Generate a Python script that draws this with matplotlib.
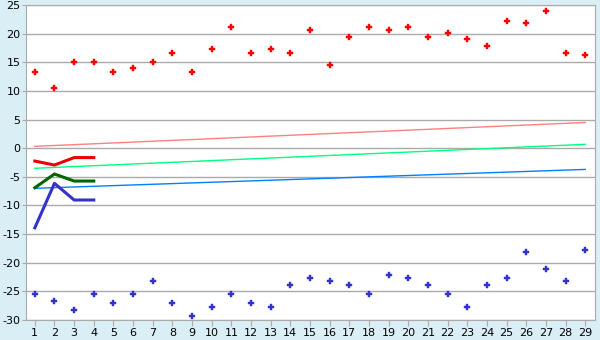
import matplotlib
matplotlib.use("Agg")
import matplotlib.pyplot as plt
import numpy as np

plt.rcParams['axes.unicode_minus'] = False

days = np.arange(1, 30)

high_pts = [13.25, 10.6, 15.0, 15.0, 13.25, 13.95, 15.0, 16.7, 13.25, 17.3,
            21.1, 16.7, 17.3, 16.7, 20.6, 14.5, 19.4, 21.1, 20.6, 21.1,
            19.4, 20.05, 19.0, 17.8, 22.15, 21.8, 23.9, 16.7, 16.2]
low_pts = [-25.5, -26.7, -28.3, -25.5, -27.1, -25.5, -23.25, -27.1, -29.3, -27.8,
           -25.5, -27.1, -27.8, -23.95, -22.7, -23.25, -23.95, -25.5, -22.2, -22.7,
           -23.95, -25.5, -27.8, -23.95, -22.7, -18.2, -21.15, -23.25, -17.8]

# trend lines (start / end values)
trend_x = [1, 29]
trend_high = [0.33, 4.5]
trend_mid = [-3.5, 0.68]
trend_low = [-7.0, -3.7]

# short series for first days
short_x = [1, 2, 3, 4]
short_high = [-2.24, -2.93, -1.63, -1.63]
short_mid = [-6.9, -4.5, -5.73, -5.73]
short_low = [-13.9, -6.13, -9.04, -9.04]

fig = plt.figure(figsize=(6, 3.4), dpi=100)
fig.patch.set_facecolor('#d9eef5')
ax = fig.add_axes([0.0433, 0.0588, 0.9484, 0.9262])
ax.set_facecolor('white')

ax.plot(trend_x, trend_high, color='#ff8080', lw=1)
ax.plot(trend_x, trend_mid, color='#00ff80', lw=1)
ax.plot(trend_x, trend_low, color='#0080ff', lw=1)

ax.plot(short_x, short_high, color='#ee0000', lw=2.2)
ax.plot(short_x, short_mid, color='#006600', lw=2.2)
ax.plot(short_x, short_low, color='#3333cc', lw=2.2)

ax.plot(days, high_pts, 'P', color='#ff0000', ms=5, mew=0.3, ls='none')
ax.plot(days, low_pts, 'P', color='#3333cc', ms=5, mew=0.3, ls='none')

ax.set_xlim(0.55, 29.5)
ax.set_ylim(-30, 25)
ax.set_xticks(days)
ax.set_yticks(np.arange(-30, 26, 5))
ax.yaxis.grid(True, color='#aaaaaa', lw=1)
ax.set_axisbelow(True)
for s in ax.spines.values():
    s.set_color('#aaaaaa')
ax.tick_params(axis='both', labelsize=8, colors='#aaaaaa', labelcolor='black', length=4, pad=2)
ax.tick_params(axis='y', length=3, pad=1)

fig.savefig('out.png', dpi=100, facecolor=fig.get_facecolor())
